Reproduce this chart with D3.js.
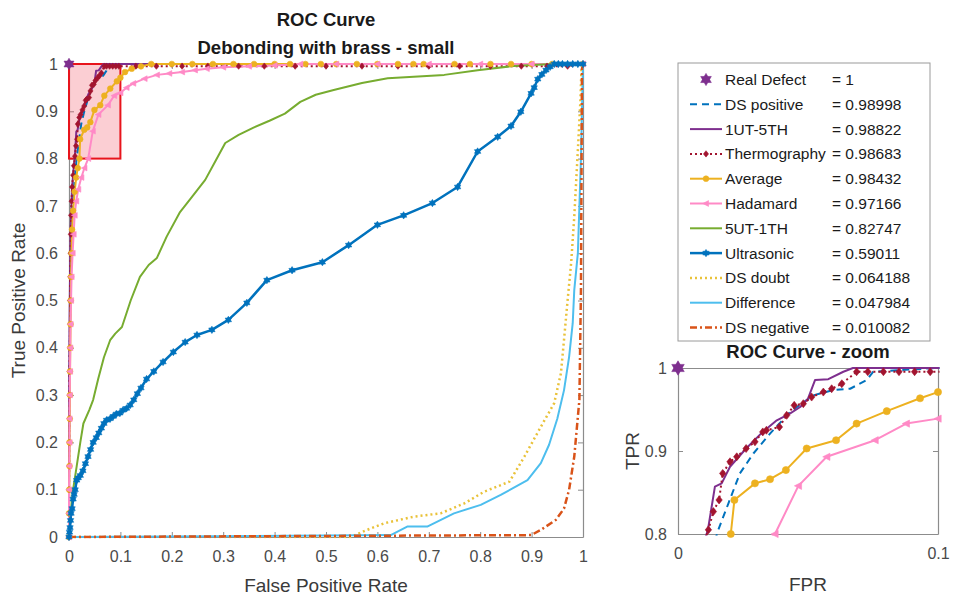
<!DOCTYPE html>
<html>
<head>
<meta charset="utf-8">
<script src="https://cdn.jsdelivr.net/npm/d3@7"></script>
<style>
  body { margin: 0; background: #fff; }
  text { font-family: "Liberation Sans", Arial, sans-serif; }
</style>
</head>
<body>
<div id="chart-area"></div>
<script>
// ROC curves - debonding with brass (small)

// ---- data (fpr, tpr) ----
var realDefect = [[0, 1]]

var dsPositive = [[0,0],[0,0.15],[0.001,0.3],[0.002,0.45],[0.004,0.6],[0.007,0.7],[0.011,0.76],[0.0155,0.805],
  [0.0194,0.837],[0.0238,0.873],[0.029,0.897],[0.0354,0.921],[0.0431,0.947],[0.052,0.967],[0.0597,0.9735],
  [0.0662,0.975],[0.0726,0.9855],[0.0751,0.9955],[0.0995,1],[1,1]]

var ut1th5 = [[0,0],[0,0.2],[0.001,0.45],[0.003,0.65],[0.006,0.74],[0.009,0.78],[0.0115,0.805],[0.0142,0.857],
  [0.0168,0.861],[0.02,0.881],[0.0262,0.903],[0.0326,0.923],[0.038,0.937],[0.043,0.945],[0.047,0.953],
  [0.05,0.963],[0.0527,0.9855],[0.0578,0.9865],[0.0636,0.9955],[0.0673,1],[1,1]]

var thermography = [[0,0],[0,0.05],[0,0.1],[0.0005,0.15],[0.0005,0.2],[0.001,0.25],[0.001,0.3],[0.001,0.35],
  [0.0015,0.4],[0.002,0.45],[0.002,0.5],[0.0025,0.55],[0.003,0.6],[0.0035,0.64],[0.004,0.68],[0.005,0.71],
  [0.006,0.74],[0.008,0.765],[0.0095,0.785],[0.0117,0.805],[0.0136,0.827],[0.0158,0.841],[0.0172,0.873],
  [0.02,0.887],[0.0226,0.893],[0.0262,0.903],[0.0296,0.911],[0.0326,0.923],[0.034,0.925],[0.039,0.929],
  [0.0418,0.943],[0.0447,0.955],[0.0482,0.957],[0.0514,0.965],[0.0559,0.971],[0.0591,0.975],[0.063,0.981],
  [0.0687,0.9955],[0.073,0.9955],[0.079,0.9955],[0.085,0.9955],[0.091,0.9955],[0.097,0.9955],[0.13,0.9955],
  [0.17,0.9955],[0.22,0.9955],[0.27,0.9955],[0.33,0.9955],[0.38,0.9955],[0.44,0.9955],[0.5,0.9955],
  [0.57,0.9955],[0.64,0.9955],[0.7,0.9955],[0.76,0.9955],[0.82,0.9955],[0.88,0.9955],[0.93,0.9955],
  [0.97,0.9955],[1,1]]

var average = [[0,0],[0,0.05],[0.0005,0.1],[0.001,0.15],[0.001,0.2],[0.0015,0.25],[0.002,0.3],[0.002,0.35],
  [0.0025,0.4],[0.003,0.45],[0.0035,0.5],[0.004,0.55],[0.005,0.6],[0.006,0.65],[0.008,0.69],[0.011,0.73],
  [0.014,0.76],[0.017,0.78],[0.0203,0.8],[0.0217,0.841],[0.0296,0.861],[0.0354,0.866],[0.0415,0.877],
  [0.0495,0.903],[0.0608,0.913],[0.0687,0.933],[0.0803,0.948],[0.0931,0.9635],[0.1,0.971],[0.109,0.983],
  [0.122,0.99],[0.14,0.995],[0.16,1],[0.2,1],[0.24,1],[0.28,1],[0.32,1],[0.36,1],[0.4,1],[0.43,1],[0.46,1],
  [0.49,1],[0.52,1],[0.56,1],[0.6,1],[0.64,1],[0.67,1],[0.69,1],[0.75,1],[0.78,1],[0.82,1],[0.86,1],
  [0.9,1],[0.94,1],[1,1]]

var hadamard = [[0,0],[0,0.05],[0,0.1],[0.0005,0.15],[0.001,0.2],[0.001,0.25],[0.0015,0.3],[0.002,0.35],
  [0.0025,0.4],[0.003,0.45],[0.004,0.5],[0.005,0.55],[0.007,0.6],[0.009,0.64],[0.011,0.68],[0.014,0.71],
  [0.018,0.735],[0.024,0.76],[0.03,0.78],[0.0373,0.8],[0.0463,0.858],[0.0572,0.893],[0.0758,0.913],
  [0.0878,0.933],[0.1,0.939],[0.112,0.95],[0.125,0.959],[0.147,0.969],[0.171,0.977],[0.195,0.98],
  [0.22,0.983],[0.245,0.987],[0.268,0.99],[0.3,0.993],[0.35,0.995],[0.4,0.997],[0.45,1],[0.52,1],
  [0.6,1],[0.7,1],[0.8,1],[0.9,1],[1,1]]

var ut5th1 = [[0,0],[0.003,0.05],[0.008,0.1],[0.015,0.15],[0.022,0.2],[0.028,0.24],[0.04,0.27],[0.047,0.29],
  [0.057,0.335],[0.068,0.38],[0.08,0.416],[0.09,0.43],[0.103,0.444],[0.12,0.5],[0.138,0.55],[0.155,0.575],
  [0.171,0.59],[0.19,0.635],[0.216,0.687],[0.24,0.72],[0.265,0.755],[0.285,0.795],[0.304,0.833],[0.33,0.85],
  [0.36,0.866],[0.39,0.88],[0.42,0.895],[0.45,0.92],[0.48,0.935],[0.515,0.945],[0.57,0.96],[0.62,0.97],
  [0.73,0.977],[0.795,0.987],[0.866,0.996],[0.94,1],[1,1]]

var ultrasonic = [[0,0],[0.001,0.01],[0.002,0.02],[0.003,0.035],[0.004,0.05],[0.006,0.06],[0.008,0.08],
  [0.01,0.09],[0.012,0.1],[0.015,0.12],[0.018,0.125],[0.022,0.13],[0.027,0.14],[0.032,0.155],[0.037,0.17],
  [0.042,0.185],[0.047,0.2],[0.053,0.21],[0.058,0.22],[0.063,0.23],[0.068,0.24],[0.073,0.247],[0.08,0.25],
  [0.086,0.255],[0.092,0.26],[0.099,0.262],[0.105,0.268],[0.112,0.272],[0.119,0.279],[0.126,0.29],
  [0.133,0.303],[0.14,0.315],[0.151,0.334],[0.165,0.35],[0.183,0.37],[0.203,0.391],[0.226,0.412],
  [0.249,0.427],[0.278,0.438],[0.31,0.459],[0.346,0.495],[0.385,0.543],[0.434,0.564],[0.493,0.581],
  [0.544,0.617],[0.6,0.66],[0.651,0.68],[0.707,0.706],[0.756,0.74],[0.795,0.815],[0.834,0.846],[0.86,0.869],
  [0.879,0.899],[0.899,0.938],[0.905,0.95],[0.912,0.968],[0.92,0.978],[0.928,0.987],[0.936,0.994],
  [0.944,1],[0.952,1],[0.96,1],[0.97,1],[0.98,1],[0.99,1],[1,1]]

var dsDoubt = [[0,0],[0.548,0],[0.58,0.015],[0.613,0.029],[0.671,0.043],[0.723,0.05],[0.769,0.071],
  [0.808,0.096],[0.857,0.117],[0.886,0.17],[0.918,0.233],[0.944,0.283],[0.957,0.346],[0.963,0.416],
  [0.97,0.5],[0.977,0.58],[0.983,0.677],[0.99,0.818],[0.995,0.924],[0.997,0.99],[1,1]]

var difference = [[0,0],[0.626,0.004],[0.658,0.022],[0.697,0.022],[0.749,0.05],[0.801,0.068],[0.84,0.089],
  [0.892,0.12],[0.918,0.156],[0.934,0.195],[0.95,0.25],[0.963,0.31],[0.973,0.381],[0.98,0.452],
  [0.983,0.522],[0.99,0.6],[0.996,0.8],[1,1]]

var dsNegative = [[0,0],[0.899,0.004],[0.918,0.015],[0.947,0.036],[0.963,0.06],[0.973,0.1],[0.983,0.17],
  [0.993,0.29],[0.996,0.52],[0.998,0.99],[1,1]]

var seriesNames = ['Real Defect','DS positive','1UT-5TH','Thermography','Average','Hadamard',
  '5UT-1TH','Ultrasonic','DS doubt','Difference','DS negative']
var aucValues = ['1','0.98998','0.98822','0.98683','0.98432','0.97166','0.82747','0.59011',
  '0.064188','0.047984','0.010082']

var mainTicks = [0,0.1,0.2,0.3,0.4,0.5,0.6,0.7,0.8,0.9,1]
var mainTickLabels = ['0','0.1','0.2','0.3','0.4','0.5','0.6','0.7','0.8','0.9','1']
var zoomXTicks = [0,0.1]
var zoomXTickLabels = ['0','0.1']
var zoomYTicks = [0.8,0.9,1]
var zoomYTickLabels = ['0.8','0.9','1']

// ---- styles ----
var styles = [
  {data: realDefect,   color:'#7E2F8E', width:0,   dash:null,       marker:'hex',  line:false},
  {data: dsPositive,   color:'#0072BD', width:2,   dash:'7,5',      marker:null},
  {data: ut1th5,       color:'#7E2F8E', width:2,   dash:null,       marker:null},
  {data: thermography, color:'#A2142F', width:2,   dash:'2,3',      marker:'diamond'},
  {data: average,      color:'#EDB120', width:2,   dash:null,       marker:'circle'},
  {data: hadamard,     color:'#FF8AC6', width:2,   dash:null,       marker:'tri'},
  {data: ut5th1,       color:'#77AC30', width:2,   dash:null,       marker:null},
  {data: ultrasonic,   color:'#0072BD', width:2.5, dash:null,       marker:'star'},
  {data: dsDoubt,      color:'#E9C23A', width:2.5, dash:'2,3',      marker:null},
  {data: difference,   color:'#4DBEEE', width:2,   dash:null,       marker:null},
  {data: dsNegative,   color:'#D95319', width:2.5, dash:'7,3,2,3',  marker:null}
]

var svg = d3.select('#chart-area').append('svg')
  .attr('width', 955).attr('height', 600)

// marker paths
function hexPath(r){
  var p = function(a){ var t = a*Math.PI/180; return [r*Math.cos(t), r*Math.sin(t)] }
  var t1 = [p(-90),p(30),p(150)], t2 = [p(90),p(210),p(330)]
  return 'M'+t1.join('L')+'Z M'+t2.join('L')+'Z'
}
function markerPath(type, s){
  if (type=='hex') return hexPath(s*1.8)
  if (type=='star') return hexPath(s*1.15)
  if (type=='diamond') return 'M0,'+(-s)+'L'+(s*0.8)+',0L0,'+s+'L'+(-s*0.8)+',0Z'
  if (type=='circle') return d3.symbol().type(d3.symbolCircle).size(Math.PI*s*s*0.8)()
  if (type=='tri') return 'M'+(-s)+',0L'+(s*0.8)+','+(-s*0.9)+'L'+(s*0.8)+','+(s*0.9)+'Z'
}

// ---- generic axes panel ----
function drawPanel(x, y, opt){
  var g = svg.append('g')
  var x0 = x.range()[0], x1 = x.range()[1], y0 = y.range()[0], y1 = y.range()[1]

  var clipId = 'clip' + opt.id
  svg.append('clipPath').attr('id', clipId)
    .append('rect').attr('x', x0-1.5).attr('y', y1-1.5)
    .attr('width', x1-x0+3).attr('height', y0-y1+3)

  // axes
  var fmtX = function(d){ return opt.xLabels[opt.xTicks.indexOf(d)] }
  var fmtY = function(d){ return opt.yLabels[opt.yTicks.indexOf(d)] }
  var axB = g.append('g').attr('transform','translate(0,'+y0+')')
    .call(d3.axisBottom(x).tickValues(opt.xTicks).tickFormat(fmtX).tickSize(-opt.tick).tickPadding(opt.tick+9).tickSizeOuter(0))
  var axL = g.append('g').attr('transform','translate('+x0+',0)')
    .call(d3.axisLeft(y).tickValues(opt.yTicks).tickFormat(fmtY).tickSize(-opt.tick).tickPadding(opt.tick+6).tickSizeOuter(0))
  var axT = g.append('g').attr('transform','translate(0,'+y1+')')
    .call(d3.axisTop(x).tickValues(opt.xTicks).tickFormat('').tickSize(-opt.tick).tickSizeOuter(0))
  var axR = g.append('g').attr('transform','translate('+x1+',0)')
    .call(d3.axisRight(y).tickValues(opt.yTicks).tickFormat('').tickSize(-opt.tick).tickSizeOuter(0))
  g.selectAll('.domain').attr('stroke','#8c8c8c').attr('stroke-width',1.2)
  g.selectAll('.tick line').attr('stroke','#8c8c8c')
  g.selectAll('.tick text').attr('font-size','16px').attr('fill','#4a4a4a')
    .style('font-family','"Liberation Sans", Arial, sans-serif')

  if (opt.zoomBox){
    g.append('rect')
      .attr('x', x(0)).attr('y', y(1))
      .attr('width', x(0.1)-x(0)).attr('height', y(0.8)-y(1))
      .attr('fill','rgba(240,60,80,0.25)').attr('stroke','#e8141c').attr('stroke-width',2)
  }

  var line = d3.line().x(function(d){return x(d[0])}).y(function(d){return y(d[1])})
  var curves = g.append('g').attr('clip-path','url(#'+clipId+')')
  var markers = g.append('g')
  var xd = x.domain(), yd = y.domain()

  styles.forEach(function(s){
    if (s.line !== false){
      curves.append('path').datum(s.data)
        .attr('d', line).attr('fill','none')
        .attr('stroke', s.color).attr('stroke-width', s.width)
        .attr('stroke-dasharray', s.dash)
        .attr('stroke-linejoin','round')
    }
    if (s.marker){
      var pts = s.data.filter(function(d){
        return d[0] >= xd[0]-1e-9 && d[0] <= xd[1]+1e-9 && d[1] >= yd[0]-1e-9 && d[1] <= yd[1]+1e-9
      })
      markers.selectAll(null).data(pts).enter().append('path')
        .attr('transform', function(d){ return 'translate('+x(d[0])+','+y(d[1])+')' })
        .attr('d', markerPath(s.marker, opt.msize))
        .attr('fill', s.color)
        .attr('stroke', s.color).attr('stroke-width', 0.6)
    }
  })

  // titles and labels
  opt.title.forEach(function(t, i){
    svg.append('text').attr('x', (x0+x1)/2).attr('y', opt.titleY + i*28)
      .attr('text-anchor','middle').attr('font-size','18.5px').attr('font-weight','bold')
      .attr('fill','#1a1a1a').text(t)
  })
  svg.append('text').attr('x', (x0+x1)/2).attr('y', opt.xLabelY)
    .attr('text-anchor','middle').attr('font-size','19px').attr('fill','#3a3a3a').text(opt.xLabel)
  svg.append('text')
    .attr('transform','translate('+opt.yLabelX+','+(y0+y1)/2+') rotate(-90)')
    .attr('text-anchor','middle').attr('font-size','19px').attr('fill','#3a3a3a').text(opt.yLabel)
}

// main chart
var xMain = d3.scaleLinear().domain([0,1]).range([69,583])
var yMain = d3.scaleLinear().domain([0,1]).range([537,64])
drawPanel(xMain, yMain, {
  id:'main', xTicks: mainTicks, xLabels: mainTickLabels, yTicks: mainTicks, yLabels: mainTickLabels,
  tick:5, msize:3.2, zoomBox:true,
  title:['ROC Curve','Debonding with brass - small'], titleY:26,
  xLabel:'False Positive Rate', xLabelY:592, yLabel:'True Positive Rate', yLabelX:25
})

// zoom chart
var xZoom = d3.scaleLinear().domain([0,0.1]).range([678,938])
var yZoom = d3.scaleLinear().domain([0.8,1]).range([534,368])
drawPanel(xZoom, yZoom, {
  id:'zoom', xTicks: zoomXTicks, xLabels: zoomXTickLabels, yTicks: zoomYTicks, yLabels: zoomYTickLabels,
  tick:5, msize:4, zoomBox:false,
  title:['ROC Curve - zoom'], titleY:358,
  xLabel:'FPR', xLabelY:591, yLabel:'TPR', yLabelX:639
})

// ---- legend ----
var leg = svg.append('g')
leg.append('rect').attr('x',678).attr('y',63).attr('width',252).attr('height',278)
  .attr('fill','#fff').attr('stroke','#9a9a9a').attr('stroke-width',1)

styles.forEach(function(s, i){
  var cy = 79.5 + i*24.8
  if (s.line !== false){
    leg.append('line').attr('x1',690).attr('x2',722).attr('y1',cy).attr('y2',cy)
      .attr('stroke', s.color).attr('stroke-width', s.width).attr('stroke-dasharray', s.dash)
  }
  if (s.marker){
    leg.append('path').attr('transform','translate(706,'+cy+')')
      .attr('d', markerPath(s.marker, s.marker=='hex' ? 3.4 : 3.2))
      .attr('fill', s.color).attr('stroke', s.color).attr('stroke-width',0.6)
  }
  var name = leg.append('text').attr('x',725).attr('y',cy+5.5)
    .attr('font-size','15.5px').attr('fill','#1a1a1a').text(seriesNames[i])
  var w = name.node().getComputedTextLength()
  leg.append('text').attr('x', Math.max(832, 725+w+5)).attr('y',cy+5.5)
    .attr('font-size','15.5px').attr('fill','#1a1a1a').text('= ' + aucValues[i])
})
</script>
</body>
</html>
